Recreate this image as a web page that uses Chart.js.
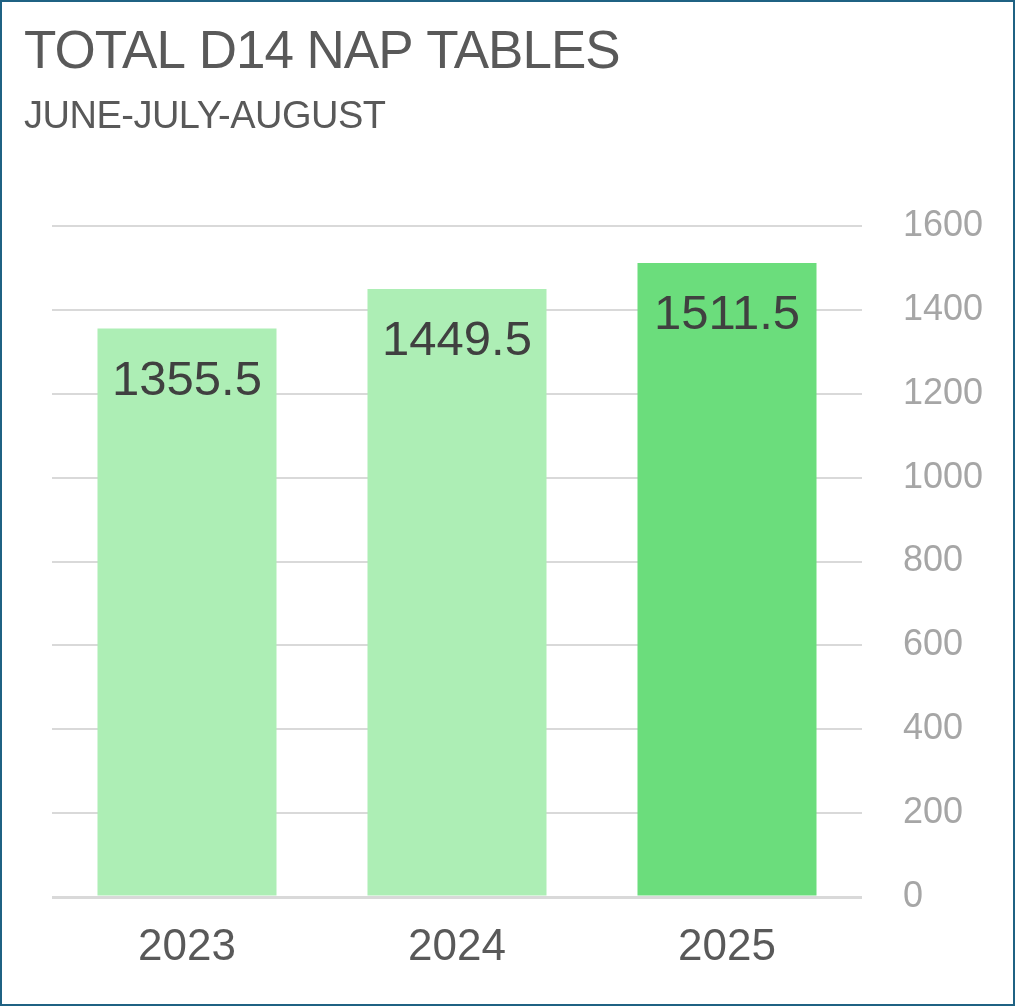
<!DOCTYPE html>
<html>
<head>
<meta charset="utf-8">
<script src="https://cdn.jsdelivr.net/npm/chart.js@4.4.1/dist/chart.umd.min.js"></script>
<style>
  html, body { margin: 0; padding: 0; background: #fff; }
  #frame {
    position: absolute; left: 0; top: 0;
    width: 1015px; height: 1006px;
    box-sizing: border-box;
    border: 2px solid #1f6283;
  }
  #chart { position: absolute; left: 0; top: 0; }
</style>
</head>
<body>
<div id="frame">
  <canvas id="chart" width="1011" height="1002" style="width:1011px;height:1002px"></canvas>
</div>
<script>
// chart data
const years = ["2023", "2024", "2025"];
const napTables = [1355.5, 1449.5, 1511.5];
const barColors = ["#adeeb5", "#adeeb5", "#6bdd7c"];
const yTicks = [0, 200, 400, 600, 800, 1000, 1200, 1400, 1600];

const titleText = "TOTAL D14 NAP TABLES";
const subtitleText = "JUNE-JULY-AUGUST";

const fontFamily = "'Liberation Sans', Arial, sans-serif";

// title + subtitle drawn in the top-left corner
const titlePlugin = {
  id: "titles",
  afterDraw(chart) {
    const ctx = chart.ctx;
    ctx.save();
    ctx.fillStyle = "#595959";
    ctx.textAlign = "left";
    ctx.textBaseline = "alphabetic";
    ctx.font = "53px " + fontFamily;
    if ("letterSpacing" in ctx) ctx.letterSpacing = "-1px";
    ctx.fillText(titleText, 22, 66);
    ctx.font = "38px " + fontFamily;
    if ("letterSpacing" in ctx) ctx.letterSpacing = "-0.5px";
    ctx.fillText(subtitleText, 22, 126);
    ctx.restore();
  },
};

// value labels just inside the top of each bar
const valueLabels = {
  id: "valueLabels",
  afterDatasetsDraw(chart) {
    const ctx = chart.ctx;
    const meta = chart.getDatasetMeta(0);
    ctx.save();
    ctx.fillStyle = "#404040";
    ctx.font = "49px " + fontFamily;
    ctx.textAlign = "center";
    ctx.textBaseline = "alphabetic";
    meta.data.forEach((bar, i) => {
      ctx.fillText(String(napTables[i]), bar.x, bar.y + 66);
    });
    ctx.restore();
  },
};

const ctx = document.getElementById("chart").getContext("2d");
new Chart(ctx, {
  type: "bar",
  data: {
    labels: years,
    datasets: [
      {
        data: napTables,
        backgroundColor: barColors,
        borderWidth: 0,
        categoryPercentage: 1,
        barPercentage: 0.663,
      },
    ],
  },
  options: {
    responsive: false,
    animation: false,
    layout: { padding: { left: 50, top: 224, right: 0, bottom: 0 } },
    plugins: {
      legend: { display: false },
      tooltip: { enabled: false },
    },
    scales: {
      x: {
        grid: { display: false, drawTicks: false },
        border: { display: false },
        ticks: {
          color: "#595959",
          font: { family: fontFamily, size: 44 },
          padding: 24,
        },
        afterFit: (scale) => { scale.height = 107; },
      },
      y: {
        position: "right",
        min: 0,
        max: 1600,
        afterBuildTicks: (scale) => {
          scale.ticks = yTicks.map((v) => ({ value: v }));
        },
        grid: {
          color: "#d9d9d9",
          lineWidth: (c) => (c.tick && c.tick.value === 0 ? 3 : 2),
          drawTicks: false,
        },
        border: { display: false },
        ticks: {
          color: "#a6a6a6",
          font: { family: fontFamily, size: 36 },
          padding: 41,
          callback: (value) => String(value),
        },
        afterFit: (scale) => { scale.width = 151; },
      },
    },
  },
  plugins: [titlePlugin, valueLabels],
});
</script>
</body>
</html>
